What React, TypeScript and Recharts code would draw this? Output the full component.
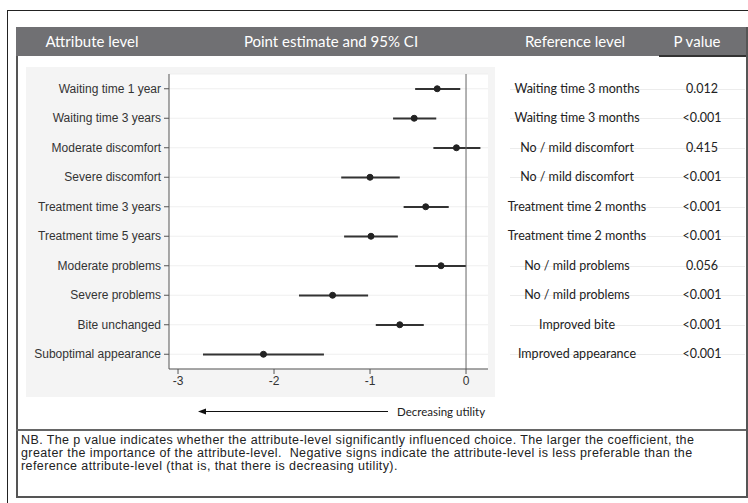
import React from 'react';
import {
  ComposedChart,
  Bar,
  Line,
  XAxis,
  YAxis,
  CartesianGrid,
  ReferenceLine
} from 'recharts';

// attribute levels, top to bottom
const attributes = [
  'Waiting time 1 year',
  'Waiting time 3 years',
  'Moderate discomfort',
  'Severe discomfort',
  'Treatment time 3 years',
  'Treatment time 5 years',
  'Moderate problems',
  'Severe problems',
  'Bite unchanged',
  'Suboptimal appearance'
];

const estimates = [-0.3, -0.54, -0.1, -1.0, -0.42, -0.99, -0.26, -1.39, -0.69, -2.11];
const ciLow = [-0.53, -0.76, -0.34, -1.3, -0.65, -1.27, -0.53, -1.74, -0.94, -2.74];
const ciHigh = [-0.06, -0.31, 0.15, -0.69, -0.18, -0.71, 0.0, -1.02, -0.44, -1.48];

const referenceLevels = [
  'Waiting time 3 months',
  'Waiting time 3 months',
  'No / mild discomfort',
  'No / mild discomfort',
  'Treatment time 2 months',
  'Treatment time 2 months',
  'No / mild problems',
  'No / mild problems',
  'Improved bite',
  'Improved appearance'
];

const pValues = ['0.012', '<0.001', '0.415', '<0.001', '<0.001', '<0.001', '0.056', '<0.001', '<0.001', '<0.001'];

const xTicks = [-3, -2, -1, 0];

const headers = [
  { label: 'Attribute level', cx: 92 },
  { label: 'Point estimate and 95% CI', cx: 331 },
  { label: 'Reference level', cx: 575 },
  { label: 'P value', cx: 697 }
];

const noteLines = [
  'NB. The p value indicates whether the attribute-level significantly influenced choice. The larger the coefficient, the',
  'greater the importance of the attribute-level.  Negative signs indicate the attribute-level is less preferable than the',
  'reference attribute-level (that is, that there is decreasing utility).'
];

// chart geometry (page px)
const PANEL_LEFT = 26;
const PANEL_TOP = 67;
const PANEL_W = 469;
const PANEL_H = 330;
const PLOT_TOP = 74;
const PLOT_BOTTOM = 369;

const CALIBRI = 'Lato, "Open Sans", sans-serif';
const ARIAL = '"Liberation Sans", Arial, sans-serif';

const AttrTick = ({ x, y, payload }: any) => (
  <text x={x} y={y} dy={4} textAnchor="end" fill="#333" fontSize={12} fontFamily={ARIAL}>
    {payload.value}
  </text>
);

const App: React.FC = () => {
  const data = attributes.map((attr, i) => ({
    attr,
    est: estimates[i],
    ci: [ciLow[i], ciHigh[i]]
  }));

  const rowH = (PLOT_BOTTOM - PLOT_TOP) / attributes.length;

  return (
    <div style={{ position: 'absolute', left: 0, top: 0, width: 748, height: 503, overflow: 'hidden', background: '#fff' }}>
      {/* outer frame */}
      <div style={{ position: 'absolute', left: 7, top: 10, width: 800, height: 600, border: '1px solid #222' }} />
      {/* inner box */}
      <div style={{ position: 'absolute', left: 16, top: 27, width: 728, height: 469, border: '2px solid #555', borderTop: 'none' }} />

      {/* header band */}
      <div style={{ position: 'absolute', left: 16, top: 27, width: 730, height: 29, background: '#707073' }} />
      <div style={{ position: 'absolute', left: 659, top: 55, width: 87, height: 2, background: '#333' }} />
      {headers.map((h) => (
        <div
          key={h.label}
          style={{
            position: 'absolute',
            left: h.cx - 120,
            width: 240,
            top: 27,
            height: 29,
            lineHeight: '29px',
            textAlign: 'center',
            color: '#fff',
            fontFamily: CALIBRI,
            fontSize: 15
          }}
        >
          {h.label}
        </div>
      ))}

      {/* forest plot */}
      <div style={{ position: 'absolute', left: PANEL_LEFT, top: PANEL_TOP, width: PANEL_W, height: PANEL_H, background: '#f4f4f4' }}>
        <ComposedChart
          width={PANEL_W}
          height={PANEL_H}
          data={data}
          layout="vertical"
          margin={{ top: 7, right: 7, bottom: 0, left: 0 }}
        >
          <CartesianGrid horizontal vertical={false} stroke="#efefef" fill="#ffffff" />
          <XAxis
            type="number"
            domain={[-3.094, 0.229]}
            ticks={xTicks}
            allowDataOverflow
            height={28}
            stroke="#555"
            tickSize={5}
            tick={{ fill: '#333', fontSize: 12, fontFamily: ARIAL }}
          />
          <YAxis
            type="category"
            dataKey="attr"
            width={143}
            stroke="#555"
            tickSize={5}
            tickMargin={3}
            interval={0}
            tick={<AttrTick />}
          />
          <ReferenceLine x={0} stroke="#666" strokeWidth={1} />
          <Bar dataKey="ci" barSize={2} fill="#333" isAnimationActive={false} />
          <Line
            dataKey="est"
            stroke="none"
            dot={{ r: 3, fill: '#222', stroke: '#222', strokeWidth: 1 }}
            activeDot={false}
            isAnimationActive={false}
          />
        </ComposedChart>
      </div>

      {/* decreasing utility arrow */}
      <svg style={{ position: 'absolute', left: 190, top: 404, overflow: 'visible' }} width={200} height={16}>
        <line x1={14} y1={7.5} x2={198} y2={7.5} stroke="#111" strokeWidth={1.2} />
        <polygon points="8,7.5 16,4.5 16,10.5" fill="#111" />
      </svg>
      <div
        style={{
          position: 'absolute',
          left: 397,
          top: 404,
          height: 16,
          lineHeight: '16px',
          fontFamily: CALIBRI,
          fontSize: 11.5,
          color: '#222',
          whiteSpace: 'nowrap'
        }}
      >
        Decreasing utility
      </div>

      {/* reference level / p value table */}
      {referenceLevels.map((ref, i) => {
        const cy = PLOT_TOP + rowH * (i + 0.5);
        return (
          <React.Fragment key={i}>
            <div style={{ position: 'absolute', left: 510, top: Math.round(cy), width: 235, height: 1, background: '#ececec' }} />
            <div
              style={{
                position: 'absolute',
                left: 577 - 90,
                width: 180,
                top: cy - 9,
                height: 18,
                lineHeight: '18px',
                textAlign: 'center',
                fontFamily: CALIBRI,
                fontSize: 12.5,
                color: '#222'
              }}
            >
              {ref}
            </div>
            <div
              style={{
                position: 'absolute',
                left: 702 - 40,
                width: 80,
                top: cy - 9,
                height: 18,
                lineHeight: '18px',
                textAlign: 'center',
                fontFamily: CALIBRI,
                fontSize: 12.5,
                color: '#222'
              }}
            >
              {pValues[i]}
            </div>
          </React.Fragment>
        );
      })}

      {/* note box */}
      <div style={{ position: 'absolute', left: 16, top: 429, width: 730, height: 2, background: '#666' }} />
      {noteLines.map((line, i) => (
        <div
          key={i}
          style={{
            position: 'absolute',
            left: 21,
            top: 433 + i * 13.2,
            height: 14,
            lineHeight: '14px',
            fontFamily: ARIAL,
            fontSize: 12.5,
            letterSpacing: 0.4,
            color: '#222',
            whiteSpace: 'pre'
          }}
        >
          {line}
        </div>
      ))}
    </div>
  );
};

export default App;
